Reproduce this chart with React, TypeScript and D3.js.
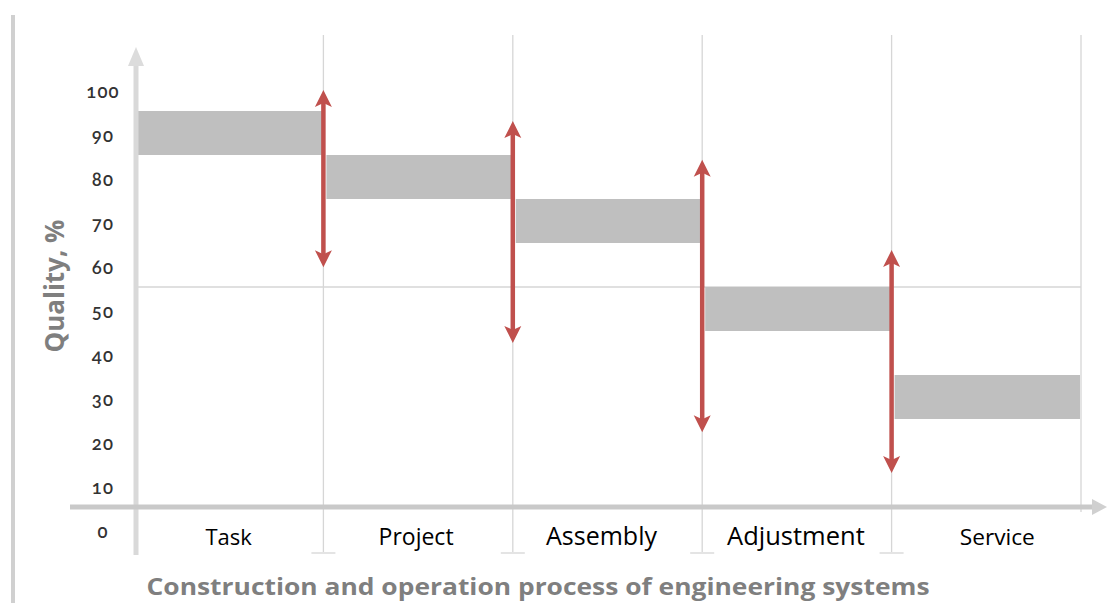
import React from "react";
import * as d3 from "d3";

// ---- data ----
const categories = ["Task", "Project", "Assembly", "Adjustment", "Service"];
const bandLow = [80, 70, 60, 40, 20];
const bandHigh = [90, 80, 70, 50, 30];
// arrows at the boundaries between consecutive stages
const arrowTop = [94.8, 87.7, 78.9, 58.4];
const arrowBottom = [54.5, 37.3, 17.0, 7.7];
const tickValues = [0, 10, 20, 30, 40, 50, 60, 70, 80, 90, 100];
const gridValues = [50];
const xTitle = "Construction and operation process of engineering systems";
const yTitle = "Quality, %";

// ---- styles ----
const labelSizes = [22, 23, 25, 25.5, 22.7];
const labelDx = [0, -2, -6, -1, 11];
const RED = "#c0504d";
const BAR = "#bfbfbf";

const W = 1108;
const H = 603;

export default function App() {
  const x = d3.scaleBand<string>().domain(categories).range([134, 1081]).padding(0);
  const y = d3.scaleLinear().domain([0, 100]).range([507, 67]);
  const step = x.step();
  const axisY = y(0);
  const labelOffset = 25;

  const arrowHead = (cx: number, tip: number, dir: number) => {
    // dir = -1 -> pointing up, 1 -> pointing down
    const h = 17;
    const w = 8.5;
    const pts = [
      [cx, tip],
      [cx - w, tip - dir * h],
      [cx, tip - dir * (h - 4)],
      [cx + w, tip - dir * h],
    ];
    return pts.map((p) => p.join(",")).join(" ");
  };

  return (
    <svg
      width={W}
      height={H}
      style={{ position: "absolute", left: 0, top: 0, background: "#fff" }}
    >
      {/* left border */}
      <rect x={11} y={15} width={4} height={H - 15} fill="#d0d0d0" />

      {/* vertical gridlines */}
      {categories.slice(1).map((c) => (
        <g key={"vg" + c}>
          <line x1={x(c)!} x2={x(c)!} y1={35} y2={553} stroke="#d6d6d6" strokeWidth={1.3} />
          <line x1={x(c)! - 12} x2={x(c)! + 12} y1={553} y2={553} stroke="#e4e4e4" strokeWidth={2} />
        </g>
      ))}
      <line x1={x.range()[1]} x2={x.range()[1]} y1={35} y2={512} stroke="#d6d6d6" strokeWidth={1.3} />

      {/* horizontal gridline */}
      {gridValues.map((v) => (
        <line key={"hg" + v} x1={x.range()[0]} x2={x.range()[1]} y1={y(v)} y2={y(v)} stroke="#d6d6d6" strokeWidth={1.5} />
      ))}

      {/* bands */}
      {categories.map((c, i) => (
        <rect
          key={"b" + c}
          x={x(c)! + 3}
          y={y(bandHigh[i])}
          width={step - 4}
          height={y(bandLow[i]) - y(bandHigh[i])}
          fill={BAR}
        />
      ))}

      {/* y axis */}
      <line x1={136} x2={136} y1={60} y2={555} stroke="#d9d9d9" strokeWidth={5} />
      <polygon points="136,47 128,66 144,66" fill="#dcdcdc" />

      {/* x axis */}
      <line x1={70} x2={1096} y1={axisY} y2={axisY} stroke="#c9c9c9" strokeWidth={5} />
      <polygon points={`1107,${axisY} 1092,${axisY - 8} 1092,${axisY + 8}`} fill="#d0d0d0" />

      {/* arrows */}
      {arrowTop.map((t, i) => {
        const cx = x(categories[i + 1])!;
        const yt = y(t);
        const yb = y(arrowBottom[i]);
        return (
          <g key={"a" + i}>
            <line x1={cx} x2={cx} y1={yt + 10} y2={yb - 10} stroke={RED} strokeWidth={4.5} />
            <polygon points={arrowHead(cx, yt, -1)} fill={RED} />
            <polygon points={arrowHead(cx, yb, 1)} fill={RED} />
          </g>
        );
      })}

      {/* y tick labels */}
      {tickValues.map((v) => (
        <text
          key={"t" + v}
          x={103}
          y={y(v) + labelOffset}
          dy="0.35em"
          textAnchor="middle"
          fontFamily="Lato, 'Open Sans', sans-serif"
          fontSize={18.5}
          fontWeight={600}
          letterSpacing={1.2}
          fill="#333"
          style={{ fontVariantNumeric: "oldstyle-nums" }}
        >
          {v}
        </text>
      ))}

      {/* category labels */}
      {categories.map((c, i) => (
        <text
          key={"l" + c}
          x={x(c)! + step / 2 + labelDx[i]}
          y={545}
          textAnchor="middle"
          fontFamily="'Open Sans', 'Noto Sans', sans-serif"
          fontSize={labelSizes[i]}
          fill="#000"
        >
          {c}
        </text>
      ))}

      {/* axis titles */}
      <text
        x={538}
        y={595}
        textAnchor="middle"
        fontFamily="'Open Sans', sans-serif"
        fontWeight={700}
        fontSize={23}
        fill="#7f7f7f"
        textLength={783}
        lengthAdjust="spacingAndGlyphs"
      >
        {xTitle}
      </text>
      <text
        transform="translate(64,286) rotate(-90)"
        textAnchor="middle"
        fontFamily="'Open Sans', sans-serif"
        fontWeight={700}
        fontSize={26}
        fill="#7f7f7f"
      >
        {yTitle}
      </text>
    </svg>
  );
}
